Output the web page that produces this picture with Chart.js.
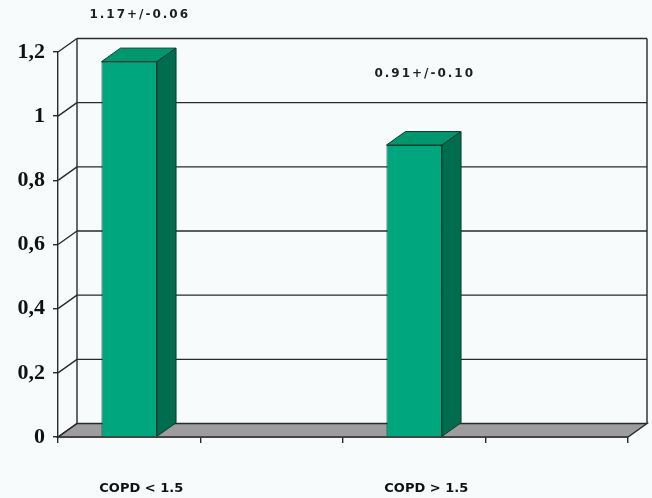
<!DOCTYPE html>
<html>
<head>
<meta charset="utf-8">
<script src="https://cdn.jsdelivr.net/npm/chart.js@4"></script>
<style>
  html, body { margin: 0; padding: 0; background: #f8fbfc; }
  #wrap { width: 652px; height: 498px; }
</style>
</head>
<body>
<div id="wrap"><canvas id="c" width="652" height="498"></canvas></div>
<script>
// Groups on the x axis (empty slots keep the wide spacing between bars)
const categories = ['COPD < 1.5', '', 'COPD > 1.5', ''];
// Mean ratio and its spread for each group
const meanValues = [1.17, null, 0.91, null];
const spreadValues = [0.06, null, 0.10, null];
// Y axis tick labels (decimal comma)
const yTickLabels = ['0', '0,2', '0,4', '0,6', '0,8', '1', '1,2'];

const DEPTH_X = 19;
const DEPTH_Y = -13.5;
const LINE = '#2a2a2a';
const FRONT = '#00a67e';
const TOP = '#00966e';
const SIDE = '#006d4f';
const EDGE = '#0d3b2d';
// how far above each bar its note sits (px)
const noteLift = [48, 72];

const depthPlugin = {
  id: 'depth3d',
  beforeDatasetsDraw(chart) {
    const { ctx, chartArea: a, scales: { y } } = chart;
    ctx.save();
    ctx.lineWidth = 1.4;
    ctx.strokeStyle = LINE;
    // floor
    ctx.beginPath();
    ctx.moveTo(a.left, a.bottom);
    ctx.lineTo(a.right, a.bottom);
    ctx.lineTo(a.right + DEPTH_X, a.bottom + DEPTH_Y);
    ctx.lineTo(a.left + DEPTH_X, a.bottom + DEPTH_Y);
    ctx.closePath();
    ctx.fillStyle = '#9d9d9d';
    ctx.fill();
    ctx.stroke();
    // back wall grid and connectors to the front axis
    y.ticks.forEach(t => {
      const yf = y.getPixelForValue(t.value);
      const yb = yf + DEPTH_Y;
      ctx.beginPath();
      ctx.moveTo(a.left, yf);
      ctx.lineTo(a.left + DEPTH_X, yb);
      if (t.value !== 0) {
        ctx.moveTo(a.left + DEPTH_X, yb);
        ctx.lineTo(a.right + DEPTH_X, yb);
      }
      ctx.stroke();
    });
    // back wall sides
    ctx.beginPath();
    ctx.moveTo(a.left + DEPTH_X, a.top + DEPTH_Y);
    ctx.lineTo(a.left + DEPTH_X, a.bottom + DEPTH_Y);
    ctx.moveTo(a.right + DEPTH_X, a.top + DEPTH_Y);
    ctx.lineTo(a.right + DEPTH_X, a.bottom + DEPTH_Y);
    ctx.stroke();
    ctx.restore();
  },
  afterDatasetsDraw(chart) {
    const { ctx } = chart;
    const meta = chart.getDatasetMeta(0);
    ctx.save();
    ctx.lineWidth = 1;
    ctx.strokeStyle = EDGE;
    let n = 0;
    meta.data.forEach((el, i) => {
      if (meanValues[i] == null) return;
      const { x, y, base, width } = el.getProps(['x', 'y', 'base', 'width'], true);
      const l = x - width / 2, r = x + width / 2;
      // top face
      ctx.beginPath();
      ctx.moveTo(l, y);
      ctx.lineTo(r, y);
      ctx.lineTo(r + DEPTH_X, y + DEPTH_Y);
      ctx.lineTo(l + DEPTH_X, y + DEPTH_Y);
      ctx.closePath();
      ctx.fillStyle = TOP;
      ctx.fill();
      ctx.stroke();
      // side face
      ctx.beginPath();
      ctx.moveTo(r, y);
      ctx.lineTo(r + DEPTH_X, y + DEPTH_Y);
      ctx.lineTo(r + DEPTH_X, base + DEPTH_Y);
      ctx.lineTo(r, base);
      ctx.closePath();
      ctx.fillStyle = SIDE;
      ctx.fill();
      ctx.stroke();
      // value note
      const txt = meanValues[i].toFixed(2) + '+/-' + spreadValues[i].toFixed(2);
      ctx.font = 'bold 12px "DejaVu Sans"';
      ctx.letterSpacing = '2px';
      ctx.fillStyle = '#1e1e1e';
      ctx.textAlign = 'center';
      ctx.textBaseline = 'middle';
      ctx.fillText(txt, x + DEPTH_X / 2 + 1, y - noteLift[n] + 1);
      n++;
    });
    ctx.restore();
  }
};

new Chart(document.getElementById('c'), {
  type: 'bar',
  data: {
    labels: categories,
    datasets: [{
      data: meanValues,
      backgroundColor: FRONT,
      borderColor: EDGE,
      borderWidth: 1,
      categoryPercentage: 1,
      barPercentage: 0.39
    }]
  },
  options: {
    responsive: false,
    animation: false,
    layout: { padding: { top: 52, right: 24, left: 0, bottom: 0 } },
    plugins: { legend: { display: false }, tooltip: { enabled: false } },
    scales: {
      y: {
        min: 0, max: 1.2,
        afterFit(s) { s.width = 58; },
        ticks: {
          stepSize: 0.2,
          padding: 8,
          color: '#111',
          font: { family: '"Liberation Serif"', weight: 'bold', size: 22 },
          callback: (v, i) => yTickLabels[i]
        },
        grid: { drawOnChartArea: false, drawTicks: true, tickLength: 5, color: LINE, lineWidth: 1.4 },
        border: { display: true, color: LINE, width: 1.4 }
      },
      x: {
        afterFit(s) { s.height = 61; },
        ticks: {
          padding: 38,
          labelOffset: 12,
          color: '#111',
          maxRotation: 0,
          autoSkip: false,
          font: { family: '"DejaVu Sans"', weight: 'bold', size: 13 }
        },
        grid: { offset: true, drawOnChartArea: false, drawTicks: true, tickLength: 6, color: LINE, lineWidth: 1.4 },
        border: { display: true, color: LINE, width: 1.4 }
      }
    }
  },
  plugins: [depthPlugin]
});
</script>
</body>
</html>
